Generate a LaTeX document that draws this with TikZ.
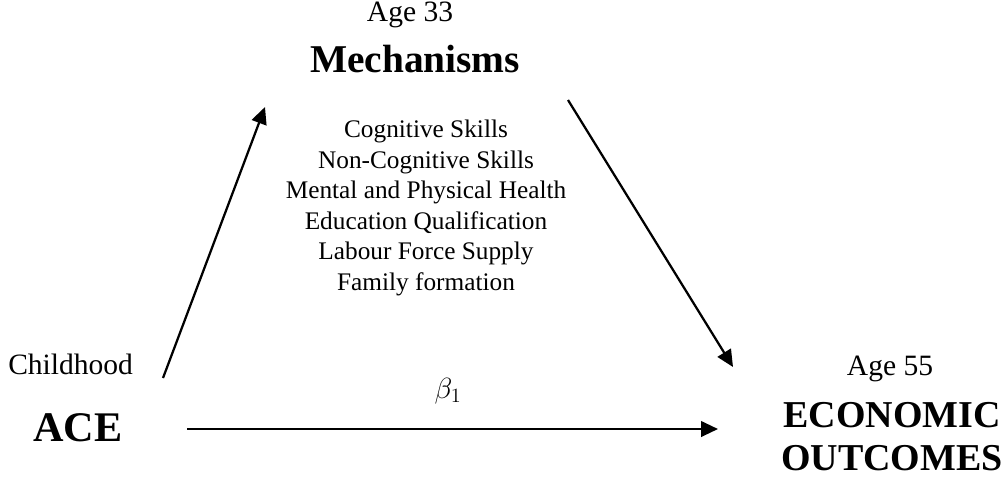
\documentclass[tikz,border=0pt]{standalone}
\usepackage{fontspec}
\setmainfont{Liberation Serif}
\usetikzlibrary{arrows.meta}

\begin{document}
\begin{tikzpicture}[
  x=0.025cm, y=-0.025cm,
  stage/.style={inner sep=0pt, font=\fontsize{21}{24}\selectfont},
  heading/.style={inner sep=0pt, font=\fontsize{28}{31}\selectfont\bfseries},
  channel/.style={inner sep=0pt, align=center, font=\fontsize{18}{21.7}\selectfont},
  link/.style={-{Triangle[length=12pt,width=11pt]}, line width=1.6pt}
]
  \useasboundingbox (0,0) rectangle (1005,476);

  % Mechanisms, measured at age 33
  \node[stage, anchor=base] (age33) at (410,21) {Age 33};
  \node[heading, anchor=base] (mech) at (415,72) {Mechanisms};
  \node[channel, anchor=north] (chan) at (426,120) {Cognitive Skills\\
    Non-Cognitive Skills\\ Mental and Physical Health\\
    Education Qualification\\ Labour Force Supply\\ Family formation};

  % ACE in childhood
  \node[stage, anchor=base west] (child) at (8,374) {Childhood};
  \node[heading, anchor=base west, font=\fontsize{30}{34}\selectfont\bfseries] (ace) at (33,441) {ACE};

  % Outcomes at age 55
  \node[stage, anchor=base] (age55) at (890,375) {Age 55};
  \node[heading, align=center, anchor=north, font=\fontsize{27}{30.6}\selectfont\bfseries] (outc) at (892,402) {ECONOMIC\\ OUTCOMES};

  \node[inner sep=0pt, anchor=base, font=\fontsize{21}{24}\selectfont] (beta) at (448,398) {$\beta_1$};

  % arrow ends
  \coordinate (upfrom) at (163,378);
  \coordinate (upto) at (265,107);
  \coordinate (downfrom) at (568,100);
  \coordinate (downto) at (733,367);
  \coordinate (directfrom) at (187,429);
  \coordinate (directto) at (718,429);

  \draw[link] (upfrom) -- (upto);
  \draw[link] (downfrom) -- (downto);
  \draw[link] (directfrom) -- (directto);
\end{tikzpicture}
\end{document}
